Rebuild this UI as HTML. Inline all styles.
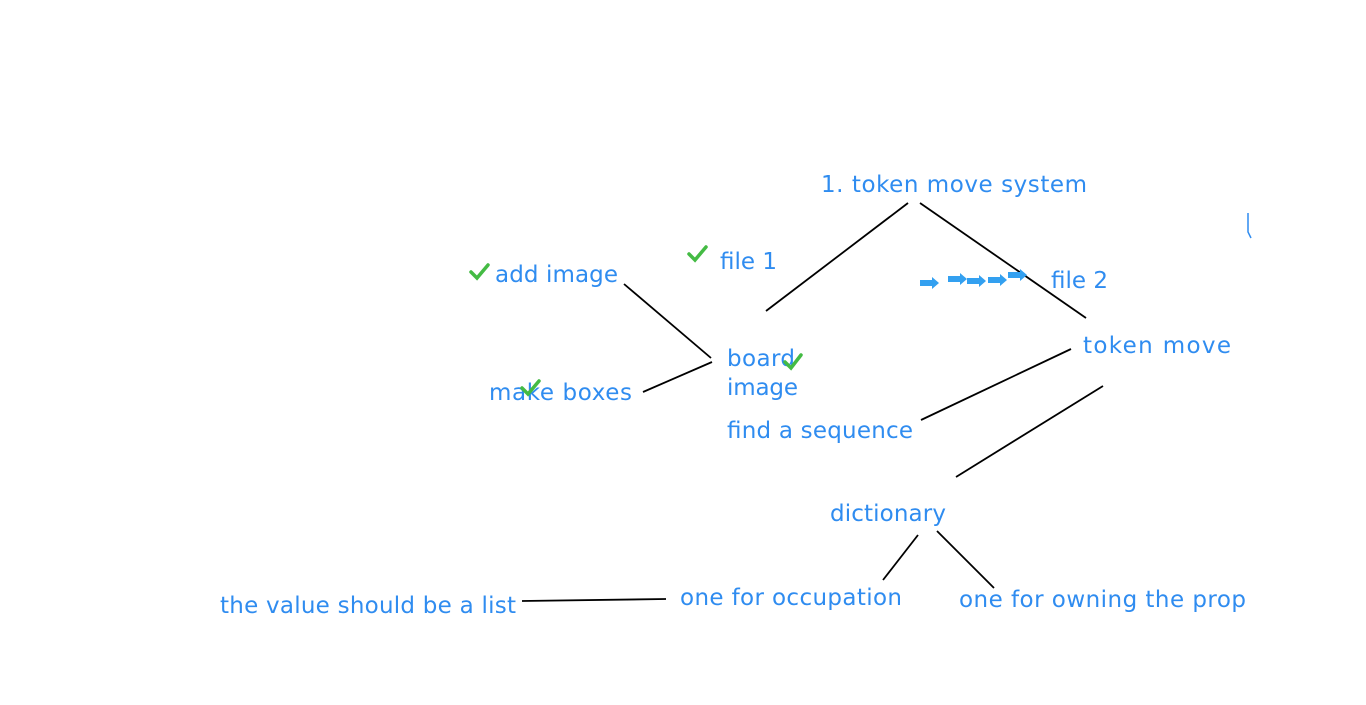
<!DOCTYPE html>
<html><head><meta charset="utf-8"><style>html,body{margin:0;padding:0;background:#fff;}svg{display:block}</style></head>
<body>
<svg width="1366" height="705" xmlns="http://www.w3.org/2000/svg" font-family="DejaVu Sans, Verdana, sans-serif" font-size="23" fill="#2f8cf0">
<g stroke="#000" stroke-width="1.8" fill="none">
<line x1="908" y1="203" x2="766" y2="311"/>
<line x1="920" y1="203" x2="1086" y2="318"/>
<line x1="624" y1="284" x2="711" y2="358"/>
<line x1="643" y1="392" x2="712" y2="362"/>
<line x1="1071" y1="349" x2="921" y2="420"/>
<line x1="1103" y1="386" x2="956" y2="477"/>
<line x1="918" y1="535" x2="883" y2="580"/>
<line x1="937" y1="531" x2="994" y2="588"/>
<line x1="522" y1="601" x2="666" y2="599"/>
</g>
<g xml:space="preserve">
<text x="821" y="192" textLength="266" lengthAdjust="spacing">1. token move system</text>
<text x="495" y="282" textLength="123" lengthAdjust="spacing">add image</text>
<text x="720" y="269" textLength="57" lengthAdjust="spacing">file 1</text>
<text x="1051" y="288" textLength="57" lengthAdjust="spacing">file 2</text>
<text x="1083" y="353" textLength="148" lengthAdjust="spacing">token  move</text>
<text x="727" y="366" textLength="68" lengthAdjust="spacing">board</text>
<text x="727" y="395" textLength="71" lengthAdjust="spacing">image</text>
<text x="489" y="400" textLength="143" lengthAdjust="spacing">make boxes</text>
<text x="727" y="438" textLength="186" lengthAdjust="spacing">find a sequence</text>
<text x="830" y="521" textLength="116" lengthAdjust="spacing">dictionary</text>
<text x="680" y="605" textLength="222" lengthAdjust="spacing">one for occupation</text>
<text x="959" y="607" textLength="287" lengthAdjust="spacing">one for owning the prop</text>
<text x="220" y="613" textLength="296" lengthAdjust="spacing">the value should be a list</text>
</g>
<g stroke="#44bb44" stroke-width="3.5" fill="none" stroke-linecap="round">
<polyline points="471,272 477,278 488,265"/>
<polyline points="689,254 695,260 706,247"/>
<polyline points="785,362 791,368 801,355"/>
<polyline points="522,388 528,394 539,381"/>
</g>
<g fill="#33a0f0">
<polygon points="920,280 932,280 932,277 939,283 932,289 932,286 920,286"/>
<polygon points="948,276 960,276 960,273 967,279 960,285 960,282 948,282"/>
<polygon points="967,278 979,278 979,275 986,281 979,287 979,284 967,284"/>
<polygon points="988,277 1000,277 1000,274 1007,280 1000,286 1000,283 988,283"/>
<polygon points="1008,272 1020,272 1020,269 1027,275 1020,281 1020,278 1008,278"/>
</g>
<path d="M1248,213 L1248,232 L1251,238" stroke="#2f8cf0" stroke-width="1.5" fill="none"/>
</svg>
</body></html>
